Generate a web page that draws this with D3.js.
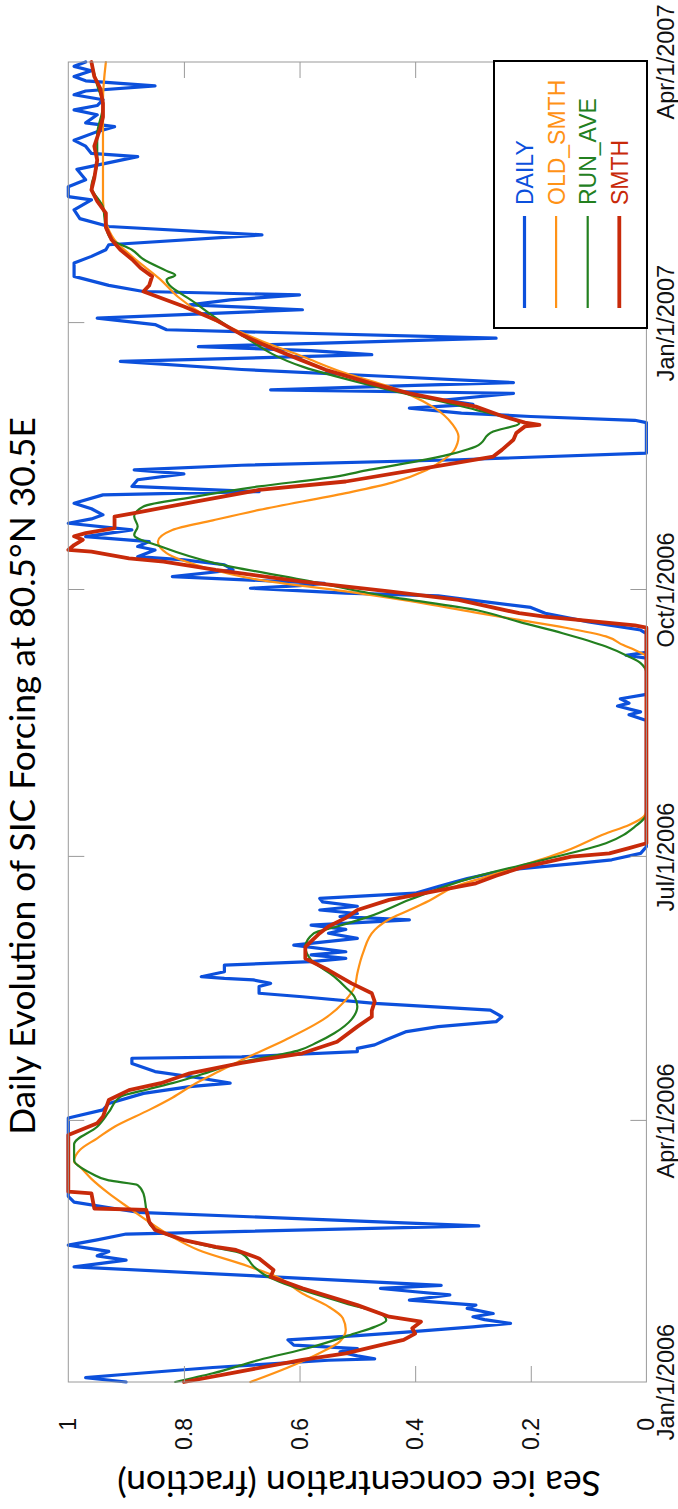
<!DOCTYPE html>
<html>
<head>
<meta charset="utf-8">
<script src="https://cdn.jsdelivr.net/npm/d3@7"></script>
<style>
  html, body { margin: 0; padding: 0; background: #fff; }
  svg { display: block; }
</style>
</head>
<body>
<div id="chart"></div>
<script>
// Time axis: days since Jan/1/2006
const tickDays = [0, 90, 181, 273, 365, 455];
const tickLabels = ["Jan/1/2006", "Apr/1/2006", "Jul/1/2006", "Oct/1/2006", "Jan/1/2007", "Apr/1/2007"];
const valueTicks = [0, 0.2, 0.4, 0.6, 0.8, 1];
const valueTickLabels = ["0", "0.2", "0.4", "0.6", "0.8", "1"];
const seriesNames = ["DAILY", "OLD_SMTH", "RUN_AVE", "SMTH"];
const seriesColors = ["#0c50dc", "#ff9216", "#23801f", "#c82a0a"];

// [day, sea ice fraction]
const daily = [
  [0,0.90],[1.5,0.97],[2.5,0.91],[5,0.75],[7.5,0.55],[8,0.47],[9,0.50],[10.4,0.53],[11.5,0.50],
  [12.7,0.61],[14.5,0.62],[16,0.50],[17.3,0.41],[19,0.30],[20.2,0.235],[21.5,0.28],[22.5,0.30],
  [23.6,0.265],[25.4,0.31],[26.5,0.295],[28.2,0.41],[30,0.34],[31.1,0.40],[32.3,0.46],[33.3,0.355],
  [36,0.62],[39.7,0.99],[41,0.94],[42,0.90],[43.5,0.95],[45,0.93],[47.2,1.0],[49,0.95],[51,0.90],
  [53.8,0.29],[58.5,0.88],[62,0.99],[64,1.0],[91,1.0],[93.8,0.94],[96,0.93],[99.5,0.87],
  [101.8,0.79],[103,0.72],[104.7,0.77],[107,0.85],[109.8,0.89],[111.6,0.89],[112.1,0.70],
  [113.9,0.50],[115,0.50],[116.2,0.47],[118,0.45],[120.8,0.415],[122.5,0.36],[124.2,0.26],
  [125.9,0.25],[128.2,0.27],[130.5,0.47],[132.8,0.595],[134,0.67],[136.3,0.67],[137.4,0.65],
  [138.6,0.68],[139.1,0.73],[139.7,0.77],[141.4,0.73],[143.7,0.73],[144.9,0.58],[146,0.52],
  [147.2,0.58],[148.3,0.52],[150.6,0.61],[152.9,0.50],[154.7,0.55],[156,0.52],[157.5,0.58],
  [159.3,0.41],[160.4,0.53],[161.5,0.50],[162.7,0.565],[164,0.50],[165.5,0.56],[166.7,0.565],
  [168.5,0.40],[170.8,0.36],[171.9,0.34],[173.5,0.31],[175.3,0.27],[176.5,0.24],[178.8,0.12],
  [180,0.06],[182.2,0.01],[184.5,0],[228,0],[230,0.03],[231,0.01],[233,0.05],[234,0.03],
  [235.5,0.045],[237,0],[249.5,0],[250.5,0.035],[251.5,0],[258,0],[259.2,0.01],[262,0.10],
  [265,0.175],[267,0.20],[270.2,0.33],[271,0.36],[271.9,0.52],[273.6,0.685],[274.5,0.60],
  [275.3,0.557],[277.6,0.82],[279.9,0.715],[281.7,0.73],[283.4,0.80],[284.5,0.88],[286.8,0.85],
  [288,0.88],[289.7,0.86],[291.4,0.97],[293.7,0.89],[296,1.0],[297.5,0.96],[298.9,0.94],
  [301,0.96],[302.9,0.99],[305.8,0.94],[306.9,0.67],[308.7,0.89],[311,0.88],[313,0.80],
  [314.4,0.886],[316,0.70],[317.9,0.325],[320.2,0],[330.7,0],[331.5,0.02],[332.8,0.20],
  [334,0.32],[335.7,0.41],[337,0.30],[338.5,0.35],[340.8,0.23],[342,0.65],[343.5,0.40],
  [344.5,0.23],[346.6,0.445],[349,0.70],[351.8,0.91],[354.1,0.475],[355.5,0.58],[356.9,0.775],
  [359.8,0.26],[362.7,0.83],[364.5,0.85],[366.7,0.95],[369.6,0.595],[371.3,0.79],[373,0.72],
  [374.7,0.60],[375.9,0.87],[378,0.93],[381.1,0.99],[385.7,0.99],[388,0.96],[390.3,0.935],
  [392,0.93],[395.4,0.665],[398.3,0.93],[401,0.98],[404,0.99],[407.5,0.96],[408.6,1.0],
  [412,1.0],[414.4,0.97],[418,0.985],[422.4,0.88],[423.5,0.96],[426,0.97],[428,0.99],
  [431,0.95],[432.7,0.92],[434,0.97],[436.8,0.95],[438.5,0.99],[440,0.95],[442,0.94],
  [443.7,0.99],[445,0.97],[446.8,0.85],[448.5,0.97],[450,0.99],[452,0.96],[453.5,0.99],[455,0.97]
];

const oldSmth = [
  [0,0.685],[5,0.62],[10,0.565],[14,0.53],[18,0.52],[22,0.525],[26,0.55],[30.5,0.595],[36.3,0.64],
  [40,0.69],[45.5,0.775],[50,0.82],[55.8,0.865],[60,0.895],[65,0.93],[70,0.96],[74.2,0.98],
  [76,0.99],[80,0.98],[84,0.95],[88,0.92],[93.8,0.86],[98,0.82],[102.9,0.78],[107,0.74],
  [111,0.70],[117.9,0.625],[124.8,0.56],[131.7,0.52],[136,0.505],[140.9,0.50],[148,0.49],
  [155.8,0.47],[160,0.44],[162.7,0.41],[166,0.375],[170.8,0.33],[174,0.28],[177.7,0.22],
  [183,0.14],[189.1,0.07],[192,0.03],[195,0.004],[197,0],[250,0],[252.3,0.02],[254,0.04],
  [257,0.07],[260,0.14],[262.7,0.22],[265,0.29],[267.9,0.37],[272.5,0.52],[276.5,0.67],
  [281.1,0.77],[285.7,0.83],[289.7,0.845],[293.7,0.82],[297,0.75],[300.6,0.67],[306.4,0.52],
  [310,0.44],[314.4,0.38],[318,0.35],[321,0.333],[325.9,0.325],[330,0.335],[336.2,0.37],
  [343.1,0.445],[347.7,0.52],[353.5,0.595],[359.2,0.67],[368.4,0.77],[374,0.81],[379.9,0.84],
  [388,0.89],[393.7,0.92],[400,0.935],[407.5,0.94],[424.7,0.94],[442,0.94],[455,0.935]
];

const runAve = [
  [0,0.815],[3,0.75],[7.6,0.67],[12,0.58],[16.7,0.505],[19,0.47],[21.3,0.45],[23.6,0.46],
  [27.1,0.52],[31.7,0.595],[36.9,0.66],[40,0.68],[44.3,0.70],[46.5,0.75],[48.9,0.80],[54.7,0.86],
  [59.3,0.865],[65,0.87],[67.9,0.88],[69.5,0.93],[71.9,0.96],[76.5,0.99],[82,0.99],[88,0.95],
  [93,0.93],[98.3,0.91],[101,0.86],[103,0.82],[106,0.77],[109.8,0.71],[114.4,0.60],[117,0.57],
  [120.2,0.54],[125,0.51],[129.4,0.50],[132.8,0.505],[136,0.52],[139.7,0.54],[145.5,0.58],
  [150,0.59],[154.7,0.575],[157,0.535],[160.4,0.48],[166.2,0.41],[174.2,0.295],[179.9,0.18],
  [185.7,0.07],[191.4,0.02],[196,0],[244.3,0],[247.8,0.01],[250,0.03],[253.5,0.07],[258.1,0.145],
  [262,0.22],[266.1,0.295],[270.7,0.445],[276.5,0.595],[282.2,0.745],[288,0.84],[292,0.886],
  [294.9,0.88],[298.3,0.886],[301.8,0.87],[305.2,0.78],[308.7,0.67],[312,0.54],[314.4,0.48],
  [318,0.38],[322.5,0.295],[327.6,0.265],[330.5,0.22],[335.1,0.295],[342,0.445],[350,0.595],
  [361.5,0.705],[371.9,0.78],[380,0.83],[381.5,0.815],[383,0.83],[387,0.87],[390.3,0.89],
  [393.7,0.925],[398,0.935],[405,0.94],[412,0.96],[420,0.95],[430,0.95],[440,0.94],[447,0.95],[455,0.96]
];

const smth = [
  [0,0.80],[3,0.72],[7.6,0.595],[9.9,0.52],[12.7,0.46],[14.5,0.42],[16.7,0.40],[18.5,0.405],
  [20.8,0.39],[22.5,0.445],[26.5,0.50],[32.3,0.595],[36.3,0.65],[38.6,0.645],[42.6,0.67],
  [45.5,0.71],[46.6,0.745],[48.9,0.80],[52.4,0.85],[55.2,0.86],[59.3,0.865],[59.8,0.955],
  [65,0.96],[65.6,1.0],[85.1,1.0],[89.2,0.95],[91.5,0.94],[97.2,0.93],[100.6,0.895],[103,0.84],
  [106.4,0.79],[110,0.70],[113.3,0.595],[117.3,0.535],[122.5,0.50],[125.9,0.475],[128,0.475],
  [131.1,0.47],[134,0.475],[137.4,0.51],[142,0.55],[146,0.59],[150,0.59],[154.7,0.565],
  [157,0.55],[160,0.52],[162.7,0.50],[166.2,0.445],[169,0.37],[171.9,0.295],[174.5,0.26],
  [177.1,0.22],[181.1,0.13],[182.2,0.064],[184,0.03],[185.7,0],[260,0],[260.8,0.02],
  [263.8,0.176],[265,0.22],[269.6,0.325],[272.5,0.445],[275.9,0.595],[279.9,0.745],[282.8,0.835],
  [283.9,0.895],[286.2,0.96],[286.8,1.0],[288.5,0.99],[290.3,0.975],[291.5,0.99],[292.6,0.97],
  [294.3,0.92],[298.3,0.92],[299.5,0.886],[303.5,0.78],[307.5,0.67],[310.4,0.52],[314.4,0.40],
  [319,0.265],[321.3,0.25],[324.8,0.23],[327.1,0.225],[329.4,0.21],[329.9,0.185],[330.7,0.21],
  [333,0.25],[336.2,0.295],[340.8,0.41],[344.5,0.48],[348.9,0.555],[352.5,0.60],[356.9,0.655],
  [361,0.70],[366.1,0.745],[370.7,0.80],[375.9,0.87],[378,0.86],[381.1,0.855],[384,0.875],
  [387,0.89],[390.3,0.91],[393.7,0.925],[398,0.935],[402.9,0.935],[407,0.95],[410.9,0.96],
  [415,0.955],[421.2,0.95],[426,0.955],[432,0.945],[436,0.94],[440.8,0.94],[446,0.945],
  [450,0.955],[455,0.96]
];

const seriesData = [daily, oldSmth, runAve, smth];
const seriesWidths = [3.2, 2.2, 2.2, 3.8];
const seriesCurves = [d3.curveLinear, d3.curveMonotoneX, d3.curveMonotoneX, d3.curveLinear];

// The chart is laid out in a landscape frame, then turned a quarter turn
// counter-clockwise onto the tall page.
const pageW = 678, pageH = 1509;
const svg = d3.select("#chart").append("svg")
  .attr("width", pageW).attr("height", pageH);
const g = svg.append("g").attr("transform", `matrix(0,-1,1,0,0,${pageH})`);

const plot = { left: 127, right: 1447, top: 68.3, bottom: 646.4 };
const x = d3.scaleLinear().domain([0, 455]).range([plot.left, plot.right]);
const y = d3.scaleLinear().domain([0, 1]).range([plot.bottom, plot.top]);

const frameColor = "#9a9a9a";
const labelFont = "'Liberation Sans', Arial, Helvetica, sans-serif";
const titleFont = "Lato, 'Open Sans', sans-serif";

// Series lines
seriesData.forEach((pts, i) => {
  const line = d3.line().x(d => x(d[0])).y(d => y(d[1])).curve(seriesCurves[i]);
  g.append("path")
    .datum(pts)
    .attr("d", line)
    .attr("fill", "none")
    .attr("stroke", seriesColors[i])
    .attr("stroke-width", seriesWidths[i])
    .attr("stroke-linejoin", "round")
    .attr("stroke-linecap", "round");
});

// Axis box with inward ticks on all four sides
const innerDays = tickDays.slice(1, -1);
const innerVals = valueTicks.slice(1, -1);
const styleAxis = sel => {
  sel.select(".domain").remove();
  sel.selectAll(".tick line").attr("stroke", frameColor).attr("stroke-width", 1);
  sel.selectAll(".tick text").remove();
};
g.append("g").attr("transform", `translate(0,${plot.bottom})`)
  .call(d3.axisBottom(x).tickValues(innerDays).tickSize(-16)).call(styleAxis);
g.append("g").attr("transform", `translate(0,${plot.top})`)
  .call(d3.axisTop(x).tickValues(innerDays).tickSize(-16)).call(styleAxis);
g.append("g").attr("transform", `translate(${plot.left},0)`)
  .call(d3.axisLeft(y).tickValues(innerVals).tickSize(-16)).call(styleAxis);
g.append("g").attr("transform", `translate(${plot.right},0)`)
  .call(d3.axisRight(y).tickValues(innerVals).tickSize(-16)).call(styleAxis);
g.append("rect")
  .attr("x", plot.left).attr("y", plot.top)
  .attr("width", plot.right - plot.left).attr("height", plot.bottom - plot.top)
  .attr("fill", "none").attr("stroke", frameColor).attr("stroke-width", 1);

// Date labels under the time axis
g.selectAll(".dateLabel").data(tickDays).enter().append("text")
  .attr("x", d => x(d)).attr("y", 674)
  .attr("text-anchor", "middle")
  .attr("font-family", labelFont).attr("font-size", 23.5).attr("fill", "#111")
  .text((d, i) => tickLabels[i]);

// Value labels left of the value axis
g.selectAll(".valLabel").data(valueTicks).enter().append("text")
  .attr("x", 91).attr("y", d => y(d)).attr("dy", "0.35em")
  .attr("text-anchor", "end")
  .attr("font-family", labelFont).attr("font-size", 23).attr("fill", "#111")
  .text((d, i) => valueTickLabels[i]);

// Title and value-axis caption, sized to their run lengths
function fitText(sel, target) {
  const len = sel.node().getComputedTextLength();
  const fs = +sel.attr("font-size");
  sel.attr("font-size", fs * target / len);
}
const title = g.append("text")
  .attr("x", 733).attr("y", 35).attr("text-anchor", "middle")
  .attr("font-family", titleFont).attr("font-size", 30).attr("fill", "#000")
  .text("Daily Evolution of SIC Forcing at 80.5\u00B0N 30.5E");
fitText(title, 718);

const ylab = g.append("text")
  .attr("transform", "translate(38,359) rotate(-90)")
  .attr("text-anchor", "middle")
  .attr("font-family", titleFont).attr("font-size", 30).attr("fill", "#000")
  .text("Sea ice concentration (fraction)");
fitText(ylab, 484);

// Legend in the lower right corner of the plot frame
const leg = { left: 1181, right: 1448, top: 494, bottom: 647 };
g.append("rect")
  .attr("x", leg.left).attr("y", leg.top)
  .attr("width", leg.right - leg.left).attr("height", leg.bottom - leg.top)
  .attr("fill", "#fff").attr("stroke", "#000").attr("stroke-width", 2);
const legRow = d3.scalePoint().domain(seriesNames).range([524.5, 619.3]);
seriesNames.forEach((name, i) => {
  const ry = legRow(name);
  g.append("line")
    .attr("x1", 1201).attr("x2", 1293).attr("y1", ry).attr("y2", ry)
    .attr("stroke", seriesColors[i]).attr("stroke-width", seriesWidths[i]);
  g.append("text")
    .attr("x", 1304).attr("y", ry + 8.5)
    .attr("font-family", labelFont).attr("font-size", 23)
    .attr("fill", seriesColors[i])
    .text(name);
});
</script>
</body>
</html>
